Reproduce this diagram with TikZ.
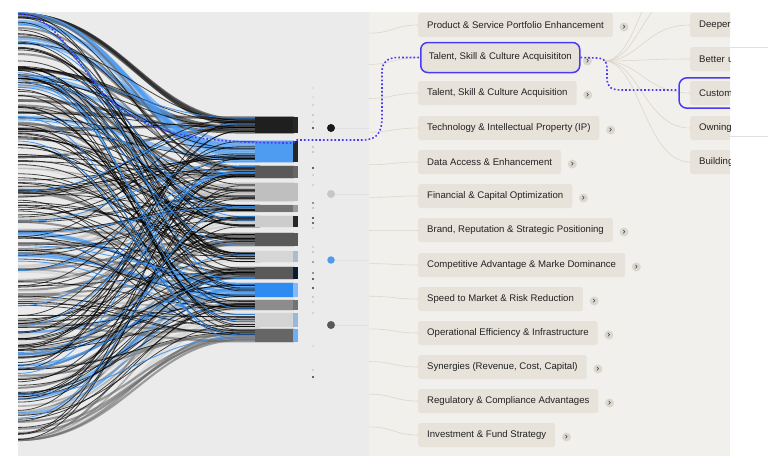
\documentclass[tikz,border=0pt]{standalone}
\usepackage{fontspec}
\setmainfont{Liberation Sans}
\usetikzlibrary{positioning,fit}
\definecolor{leftbg}{HTML}{EBEBEC}
\definecolor{rightbg}{HTML}{F2F0EC}
\definecolor{boxfill}{HTML}{E7E2DA}
\definecolor{chevfill}{HTML}{DBD6CE}
\definecolor{linkcol}{HTML}{DDD6CA}
\definecolor{hl}{HTML}{4A3BF2}
\definecolor{skblue}{HTML}{2E8BF0}
\definecolor{txt}{HTML}{222222}
\tikzset{
topic/.style={fill=boxfill, rounded corners=2.5pt, minimum height=24pt, inner xsep=9pt,
    anchor=west, text=txt, font=\fontsize{9.6}{11}\selectfont},
hlbox/.style={draw=hl, line width=1.5pt, rounded corners=7pt, minimum height=30pt, inner xsep=8pt},
hlframe/.style={draw=hl, line width=1.5pt, rounded corners=8pt, inner xsep=11pt, inner ysep=3pt},
chev/.style={circle, fill=chevfill, minimum size=9pt, inner sep=0pt, text=txt,
    font=\fontsize{9}{9}\selectfont},
link/.style={draw=linkcol, line width=0.6pt},
hlpath/.style={draw=hl, line width=1.6pt, dash pattern=on 1.7pt off 2.1pt},
flow/.style={draw opacity=0.6},
thinflow/.style={draw=black, draw opacity=0.7, line width=0.8pt},
blueflow/.style={draw=skblue, draw opacity=0.8, line width=0.9pt},
bigdot/.style={circle, minimum size=8pt, inner sep=0pt},
faint/.style={draw=black!12, line width=0.5pt}
}
\begin{document}
\begin{tikzpicture}[x=1pt,y=-1pt]
\useasboundingbox (0,0) rectangle (768,456);
\fill[white] (0,0) rectangle (768,456);
% panels
\fill[leftbg] (18,12) rectangle (369,456);
\fill[rightbg] (369,12) rectangle (730,456);
\draw[faint] (730,47) -- (768,47);
\draw[faint] (730,136) -- (768,136);

% sankey flows
\pgfmathsetseed{7}
\begin{scope}
\clip (18,12) rectangle (298,456);
\foreach \t/\b/\fc/\cc in {117/133/black!88/black!85, 141/162/skblue!85/black!85,
    166/178/black!65/black!60, 183/201/black!25/black!25, 205/212/black!55/black!40,
    216/227/black!20/black!85, 233/246/black!65/black!65, 251/262/black!16/skblue!45!black!35,
    267/279/black!65/black!80!skblue, 283/297/skblue/skblue!60, 300/310/black!45/black!55,
    313/327/black!17/skblue!70!black!45, 329/342/black!60/skblue!70}{
  \foreach \k in {1,...,10}{
    \pgfmathsetmacro\ye{\t+(\b-\t)*(\k-0.5)/10}
    \pgfmathsetmacro\ys{min(440,max(14,14+(\ye-117)*1.89+(rnd-0.5)*260))}
    \draw[flow, draw=\fc, line width={(\b-\t)/6}] (18,\ys) .. controls (120,\ys) and (150,\ye) .. (240,\ye) -- (294,\ye);
  }
}
\foreach \k in {1,...,140}{
  \pgfmathsetmacro\j{int(rnd*12.999)}
  \pgfmathsetmacro\ye{{117,141,166,183,205,216,233,251,267,283,300,313,329}[\j]+rnd*{16,21,12,18,7,11,13,11,12,14,10,14,13}[\j]}
  \pgfmathsetmacro\ys{14+426*rnd}
  \draw[thinflow] (18,\ys) .. controls (120,\ys) and (150,\ye) .. (240,\ye) -- (260,\ye);
}
\foreach \k in {1,...,24}{
  \pgfmathsetmacro\j{int(rnd*12.999)}
  \pgfmathsetmacro\ye{{117,141,166,183,205,216,233,251,267,283,300,313,329}[\j]+rnd*{16,21,12,18,7,11,13,11,12,14,10,14,13}[\j]}
  \pgfmathsetmacro\ys{20+400*rnd}
  \draw[blueflow] (18,\ys) .. controls (120,\ys) and (150,\ye) .. (240,\ye) -- (260,\ye);
}
\foreach \t/\b/\fc/\cc in {117/133/black!88/black!85, 141/162/skblue!85/black!85,
    166/178/black!65/black!60, 183/201/black!25/black!25, 205/212/black!55/black!40,
    216/227/black!20/black!85, 233/246/black!65/black!65, 251/262/black!16/skblue!45!black!35,
    267/279/black!65/black!80!skblue, 283/297/skblue/skblue!60, 300/310/black!45/black!55,
    313/327/black!17/skblue!70!black!45, 329/342/black!60/skblue!70}{
  \fill[\fc] (255,\t) rectangle (293,\b);
  \fill[\cc] (293,\t) rectangle (298,\b);
}
\end{scope}

% tick column and markers
\foreach \y/\g in {88/15, 97/15, 105/20, 115/25, 122/20, 128/80, 147/25, 152/25, 168/80,
    175/20, 185/20, 203/55, 208/25, 218/80, 223/75, 228/20, 247/20, 252/25, 262/45,
    273/55, 279/80, 288/80, 297/25, 302/20, 313/20, 346/15, 370/20, 377/80}
  \fill[black!\g] (313,\y) circle (1.1pt);
\coordinate (rim) at (369,0);
\node[bigdot, fill=black!90] (k1) at (331,128) {};
\node[bigdot, fill=black!22] (k2) at (331,194) {};
\node[bigdot, fill=skblue!85, minimum size=7.5pt] (k3) at (331,260) {};
\node[bigdot, fill=black!65] (k4) at (331,325) {};
\foreach \i in {1,...,4}
  \draw[faint] (k\i.east) -- (k\i -| rim);

% first column of topics
\node[topic] (t1) at (418,25) {Product \& Service Portfolio Enhancement};
\node[topic, hlbox] (t2) at (420,57.5) {Talent, Skill \& Culture Acquisititon};
\node[topic] (t3) at (418,93) {Talent, Skill \& Culture Acquisition};
\node[topic] (t4) at (418,128) {Technology \& Intellectual Property (IP)};
\node[topic] (t5) at (418,162) {Data Access \& Enhancement};
\node[topic] (t6) at (418,196) {Financial \& Capital Optimization};
\node[topic] (t7) at (418,230) {Brand, Reputation \& Strategic Positioning};
\node[topic] (t8) at (418,265) {Competitive Advantage \& Marke Dominance};
\node[topic] (t9) at (418,299) {Speed to Market \& Risk Reduction};
\node[topic] (t10) at (418,333) {Operational Efficiency \& Infrastructure};
\node[topic] (t11) at (418,367) {Synergies (Revenue, Cost, Capital)};
\node[topic] (t12) at (418,401) {Regulatory \& Compliance Advantages};
\node[topic] (t13) at (418,435) {Investment \& Fund Strategy};

\foreach \i/\y in {1/25, 2/57.5, 3/93, 4/128, 5/162, 6/196, 7/230, 8/265, 9/299,
    10/333, 11/367, 12/401, 13/435}{
  \coordinate (s\i) at (369,{230+(\y-230)*0.96});
  \draw[link] (s\i) .. controls (392,{230+(\y-230)*0.96}) and (395,\y) .. (t\i.west);
}
\foreach \i in {1,3,4,5,6,7,8,9,10,11,12,13}
  \node[chev] (c\i) at ([xshift=11pt,yshift=-2pt]t\i.east) {›};
\node[chev] (c2) at ([xshift=7pt,yshift=-3.5pt]t2.east) {›};

% second column, cut at the panel edge
\begin{scope}
\clip (369,12) rectangle (730,456);
\coordinate (hub) at (604,61);
\node[topic, text width=50pt] (d1) at (690,25) {Deeper};
\node[topic, text width=50pt] (d2) at (690,59) {Better u};
\node[topic, text width=50pt] (d3) at (690,93) {Custom};
\node[topic, text width=50pt] (d4) at (690,128) {Owning};
\node[topic, text width=50pt] (d5) at (690,162) {Building};
\coordinate (u1) at (690,-12);
\coordinate (u2) at (690,-46);
\foreach \n in {d1,d2,d3,d4,d5,u1,u2}
  \draw[link] (hub) .. controls (640,61) and (645,0 |- \n) .. (\n.west);
\node[hlframe, fit=(d3)] (f3) {};
\end{scope}

% highlighted route
\coordinate (dotstart) at (18,14);
\draw[hlpath] (dotstart) .. controls (55,12) and (75,65) .. (110,100)
  .. controls (150,135) and (200,143) .. (293,143) -- (297,140) -- (362,140)
  .. controls (378,140) and (382,132) .. (382,116) -- (382,72)
  .. controls (382,62) and (388,57.5) .. (398,57.5) -- (t2.west);
\draw[hlpath] (t2.east) -- (598,58) .. controls (606,59) and (607,62) .. (607,70) -- (607,78)
  .. controls (607,88) and (612,90) .. (622,90) -- (f3.west |- 0,90);
\end{tikzpicture}
\end{document}
